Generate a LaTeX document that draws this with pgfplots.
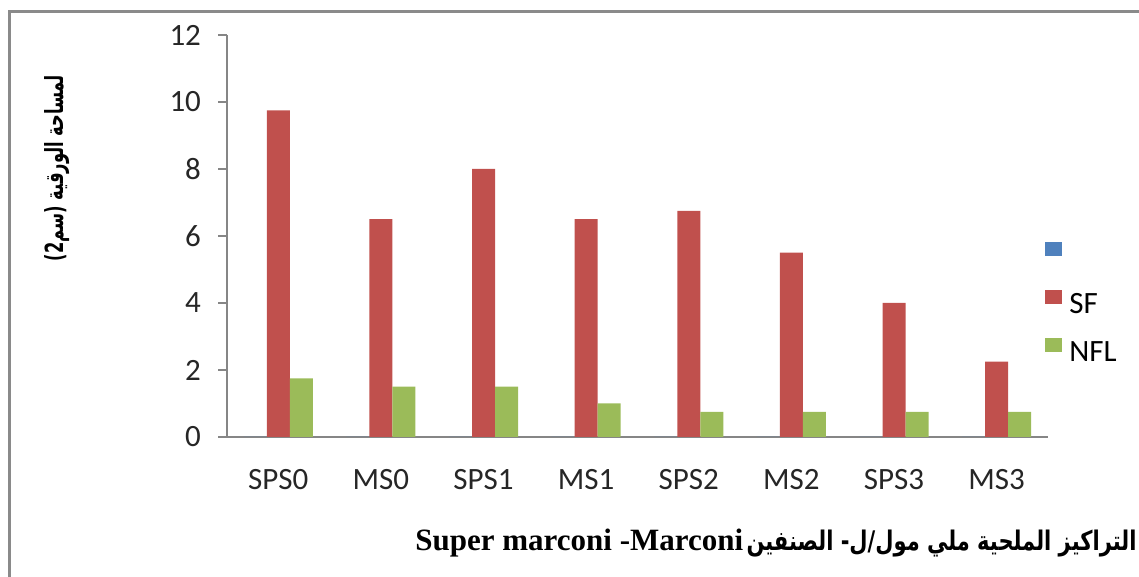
\documentclass[border=0pt]{standalone}
\usepackage{pgfplots}
\pgfplotsset{compat=1.18}
\usepackage{graphicx}
\usepackage{fontspec}
\setmainfont{Carlito}
\newfontfamily\arabicfont[Script=Arabic]{DejaVu Sans}
\newfontfamily\latinserif{Liberation Serif}
\TeXXeTstate=1
\definecolor{exred}{HTML}{C0504D}
\definecolor{exgreen}{HTML}{9BBB59}
\definecolor{exblue}{HTML}{4F81BD}
\definecolor{axgray}{HTML}{868686}
\definecolor{bordergray}{HTML}{8A8A8A}
\begin{document}
\begin{tikzpicture}
\path[use as bounding box] (0,0) rectangle (569.5pt,288.5pt);
\draw[bordergray, line width=1.5pt] (4.75pt,-3pt) -- (4.75pt,282.75pt) -- (575pt,282.75pt);
\begin{axis}[
  at={(113.5pt,70pt)}, anchor=south west,
  scale only axis, width=410.5pt, height=201pt,
  ybar=0pt, bar width=11.5pt,
  xmin=-0.5, xmax=7.5, ymin=0, ymax=12,
  xtick={0,...,7}, xticklabels={SPS0,MS0,SPS1,MS1,SPS2,MS2,SPS3,MS3},
  ytick={0,2,...,12},
  axis x line*=bottom, axis y line*=left,
  axis line style={axgray, line width=0.8pt, -},
  x tick style={draw=none},
  y tick style={axgray, line width=0.8pt},
  tick align=outside, major tick length=4.5pt,
  tick label style={font=\fontsize{15.5}{18}\selectfont, text=black!85},
  /pgf/number format/assume math mode=true,
  yticklabel style={xshift=-5pt},
  xticklabel style={yshift=-8pt},
  xlabel={{\latinserif\bfseries\fontsize{15.5}{18}\selectfont Super marconi -Marconi}\,\resizebox{195pt}{\height}{\arabicfont\bfseries\fontsize{13.5}{15}\selectfont\beginR التراكيز الملحية ملي مول/ل- الصنفين\endR}},
  xlabel style={at={(axis description cs:0.229,-0.2637)}, anchor=west, inner sep=0pt},
  ylabel={\resizebox{93pt}{\height}{\arabicfont\bfseries\fontsize{12.5}{14}\selectfont\beginR لمساحة الورقية (سم2)\endR}},
  ylabel style={at={(axis description cs:-0.207,0.669)}, anchor=center, rotate=0, inner sep=0pt},
  legend style={at={(0.9963,0.330)}, anchor=west, draw=none, fill=none, inner sep=0pt,
    row sep=9.5pt, column sep=3.5pt, font=\fontsize{15.5}{18}\selectfont,
    nodes={inner sep=0pt, text height=10.5pt, text depth=2.5pt}},
  legend cell align=left,
  legend image code/.code={\fill[#1] (0pt,1pt) rectangle (8.5pt,8pt);},
]
\addplot[fill=exblue, draw=none] coordinates {(0,0) (1,0) (2,0) (3,0) (4,0) (5,0) (6,0) (7,0)};
\addlegendentry{\mbox{}}
\addplot[fill=exred, draw=none] coordinates {(0,9.75) (1,6.5) (2,8) (3,6.5) (4,6.75) (5,5.5) (6,4) (7,2.25)};
\addlegendentry{SF}
\addplot[fill=exgreen, draw=none] coordinates {(0,1.75) (1,1.5) (2,1.5) (3,1) (4,0.75) (5,0.75) (6,0.75) (7,0.75)};
\addlegendentry{NFL}
\end{axis}
\end{tikzpicture}
\end{document}
